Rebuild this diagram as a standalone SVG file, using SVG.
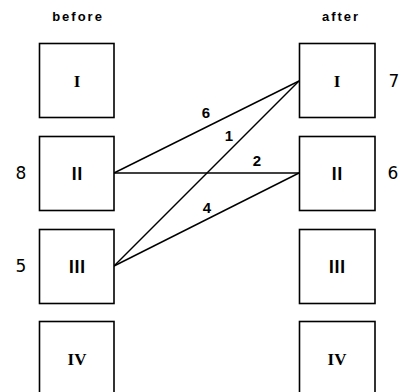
<svg xmlns="http://www.w3.org/2000/svg" width="403" height="392" viewBox="0 0 403 392">
<style>
.box{fill:#fff;stroke:#000;stroke-width:1.6}
.rn{font-family:"Liberation Serif","Noto Sans CJK JP",serif;font-size:17px;font-weight:bold;text-anchor:middle}
.hd{font-family:"Liberation Sans",sans-serif;font-size:13px;font-weight:bold;letter-spacing:2px;text-anchor:middle}
.num{font-family:"DejaVu Sans",sans-serif;font-size:17px;text-anchor:middle}
.ln{font-family:"Liberation Sans Narrow","Liberation Sans",sans-serif;font-size:15px;font-weight:bold;text-anchor:middle}
.c{stroke:#000;stroke-width:1.4;fill:none}
</style>
<rect width="403" height="392" fill="#fff"/>
<text class="hd" x="78" y="21">before</text>
<text class="hd" x="341" y="21">after</text>
<g id="connectors">
<line class="c" x1="114" y1="173" x2="299" y2="81"/>
<line class="c" x1="114" y1="173" x2="299" y2="173"/>
<line class="c" x1="114" y1="266" x2="299" y2="81"/>
<line class="c" x1="114" y1="266" x2="299" y2="173"/>
<text class="ln" x="206" y="118">6</text>
<text class="ln" x="229" y="141">1</text>
<text class="ln" x="257" y="166">2</text>
<text class="ln" x="207" y="213">4</text>
</g>
<g id="b1"><rect class="box" x="39.5" y="43.5" width="74.5" height="74"/><text class="rn" x="77" y="87">I</text></g>
<g id="b2"><rect class="box" x="39.5" y="136.5" width="74.5" height="74"/><text class="rn" x="77" y="180">Ⅱ</text><text class="num" x="21" y="179">8</text></g>
<g id="b3"><rect class="box" x="39.5" y="229.5" width="74.5" height="74"/><text class="rn" x="77" y="273">Ⅲ</text><text class="num" x="21" y="272">5</text></g>
<g id="b4"><rect class="box" x="39.5" y="321.5" width="74.5" height="74"/><text class="rn" x="77" y="365">IV</text></g>
<g id="a1"><rect class="box" x="299.5" y="43.5" width="75.5" height="74"/><text class="rn" x="337" y="87">I</text><text class="num" x="394" y="87">7</text></g>
<g id="a2"><rect class="box" x="299.5" y="136.5" width="75.5" height="74"/><text class="rn" x="337" y="180">Ⅱ</text><text class="num" x="393" y="179">6</text></g>
<g id="a3"><rect class="box" x="299.5" y="229.5" width="75.5" height="74"/><text class="rn" x="337" y="273">Ⅲ</text></g>
<g id="a4"><rect class="box" x="299.5" y="321.5" width="75.5" height="74"/><text class="rn" x="337" y="365">IV</text></g>
</svg>
